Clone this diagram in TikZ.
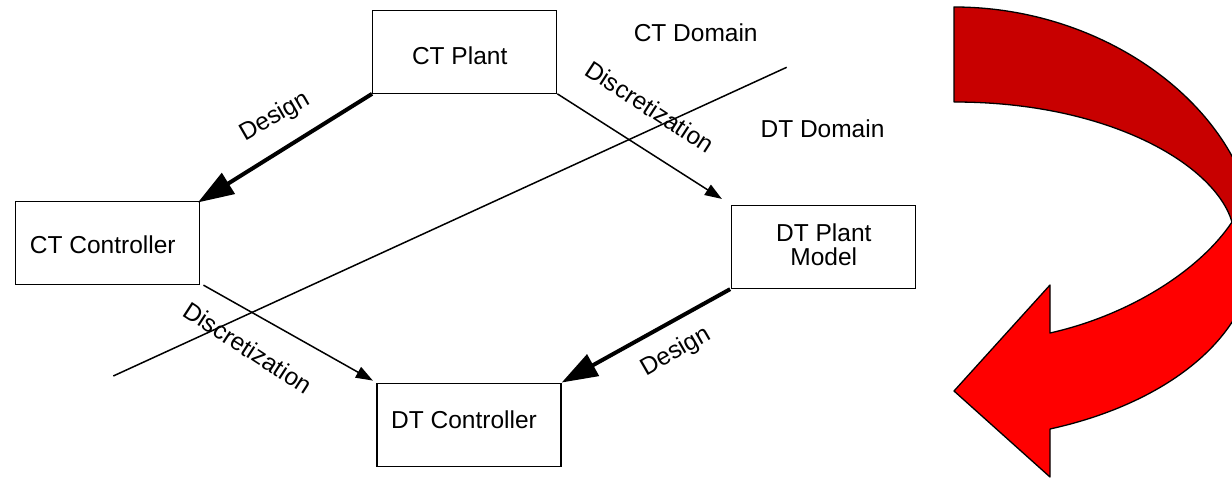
\documentclass[tikz,border=0pt]{standalone}
\usepackage{fontspec}
\setmainfont{Liberation Sans}
\usetikzlibrary{arrows.meta}
\definecolor{darkred}{HTML}{C80000}
\definecolor{brightred}{HTML}{FF0000}
\begin{document}
\begin{tikzpicture}[x=1pt,y=-1pt,
 box/.style={draw,line width=1.3pt,minimum width=184pt,minimum height=83pt,inner sep=0pt,align=center,font=\fontsize{24.5}{24.5}\selectfont},
 lbl/.style={font=\fontsize{24.5}{29}\selectfont,inner sep=0pt},
 thinarrow/.style={line width=1.5pt,-{Triangle[length=17pt,width=12pt]}},
 thickarrow/.style={line width=4pt,-{Triangle[length=36pt,width=24pt]}},
 ribbon/.style={draw=black,line width=1.3pt,line join=round},
]
\useasboundingbox (0,0) rectangle (1232,478);
% boxes
\node[box,text height=26pt,text depth=0pt] (ctp) at (464.7,51.7) {CT Plant\hspace*{10pt}};
\node[box,text height=22pt,text depth=0pt] (ctc) at (107.8,243) {CT Controller\hspace*{10pt}};
\node[box] (dtp) at (823.8,247) {DT Plant\\Model\rule[-5pt]{0pt}{5pt}};
\node[box,text height=18pt,text depth=11pt] (dtc) at (469,424.7) {DT Controller\hspace*{10pt}};
% domain separator
\coordinate (sepA) at (113.3,376);
\coordinate (sepB) at (786.7,67.3);
\draw[line width=1.5pt] (sepA) -- (sepB);
% connectors
\draw[thickarrow,shorten >=-3pt] (ctp.south west) -- (ctc.north east);
\draw[thinarrow,shorten >=11pt] (ctp.south east) -- (dtp.north west);
\draw[thinarrow,shorten >=4pt] ([xshift=3pt]ctc.south east) -- (dtc.north west);
\draw[thickarrow] ([xshift=-1pt]dtp.south west) -- (dtc.north east);
% labels
\node[lbl] (ctdom) at (695.7,33) {CT Domain};
\node[lbl] (dtdom) at (822.5,129) {DT Domain};
\node[lbl,rotate=30] (des1) at (275,117) {Design};
\node[lbl,rotate=-33] (dis1) at (650,107) {Discretization};
\node[lbl,rotate=-33] (dis2) at (248,348) {Discretization};
\node[lbl,rotate=30] (des2) at (676,352) {Design};
% curved red arrow
\begin{scope}
\clip (0,0) rectangle (1232,478);
\draw[ribbon,fill=darkred] (954,7) .. controls (1115,7) and (1252,118) .. (1256,240)
  -- (1232,222) .. controls (1215,165) and (1110,102) .. (954,102) -- cycle;
\draw[ribbon,fill=brightred] (1232,222) .. controls (1200,270) and (1130,315) .. (1050,333)
  -- (1050,285) -- (954,391) -- (1050,477) -- (1050,429)
  .. controls (1160,405) and (1258,340) .. (1256,240) -- cycle;
\end{scope}
\end{tikzpicture}
\end{document}
